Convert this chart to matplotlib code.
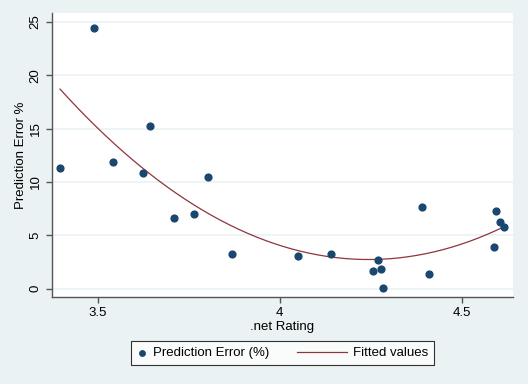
import numpy as np
import matplotlib
matplotlib.use('Agg')
import matplotlib.pyplot as plt
from matplotlib.legend_handler import HandlerLine2D

# .net rating vs prediction error (%)
rating = [3.396, 3.490, 3.542, 3.624, 3.644, 3.802, 3.710, 3.765, 3.870,
          4.051, 4.140, 4.271, 4.257, 4.279, 4.284, 4.391, 4.410,
          4.593, 4.605, 4.615, 4.589]
pred_error = [11.35, 24.46, 11.85, 10.82, 15.28, 10.47, 6.60, 7.03, 3.25,
              3.06, 3.25, 2.66, 1.63, 1.85, 0.04, 7.69, 1.41,
              7.28, 6.22, 5.78, 3.91]

x_ticks = [3.5, 4, 4.5]
x_tick_labels = ['3.5', '4', '4.5']
y_ticks = [0, 5, 10, 15, 20, 25]

bg = '#EAF2F3'
navy = '#1A476F'
maroon = '#90353B'
fs = 9.5


class LongLine(HandlerLine2D):
    # stata draws the legend line longer than the marker key
    def create_artists(self, legend, orig_handle, xdescent, ydescent,
                       width, height, fontsize, trans):
        arts = super().create_artists(legend, orig_handle, xdescent, ydescent,
                                      width, height, fontsize, trans)
        extra = 36 - width
        y0 = np.asarray(arts[0].get_ydata())[0]
        arts[0].set_data([-xdescent - extra, -xdescent + width], [y0, y0])
        return arts


plt.rcParams['font.family'] = ['Liberation Sans', 'DejaVu Sans']

fig = plt.figure(figsize=(5.28, 3.84), dpi=100, facecolor=bg)
ax = fig.add_axes([0.0985, 0.2266, 0.8731, 0.7395])
ax.set_facecolor('white')

# quadratic fit like stata qfit
coef = np.polyfit(rating, pred_error, 2)
xs = np.linspace(min(rating), max(rating), 200)
fit = np.polyval(coef, xs)

ax.scatter(rating, pred_error, s=24, color=navy, zorder=3, label='Prediction Error (%)')
fit_line, = ax.plot(xs, fit, color=maroon, lw=0.9, zorder=2, label='Fitted values')

ax.set_xlim(3.374, 4.641)
ax.set_ylim(-0.78, 25.84)
ax.set_xticks(x_ticks)
ax.set_xticklabels(x_tick_labels)
ax.set_yticks(y_ticks)
ax.set_yticklabels([str(v) for v in y_ticks], rotation=90, va='center')
ax.grid(axis='y', color=bg, lw=1.2)
ax.set_axisbelow(True)

for s in ['top', 'right']:
    ax.spines[s].set_visible(False)
for s in ['left', 'bottom']:
    ax.spines[s].set_color('#555555')
    ax.spines[s].set_linewidth(1.0)
ax.tick_params(colors='#555555', length=4, width=1.0, labelsize=fs, labelcolor='black')

ax.set_xlabel('.net Rating', fontsize=fs, labelpad=1)
ax.set_ylabel('Prediction Error %', fontsize=fs, labelpad=2)

leg = fig.legend(loc='center', bbox_to_anchor=(0.535, 0.0807), ncol=2, fontsize=fs,
                 frameon=True, fancybox=False, edgecolor='black', handlelength=0.8,
                 columnspacing=5.1, borderpad=0.45, handletextpad=0.45,
                 markerscale=0.8, handler_map={fit_line: LongLine()})
leg.get_frame().set_linewidth(0.8)

fig.savefig('out.png', dpi=100, facecolor=bg)
